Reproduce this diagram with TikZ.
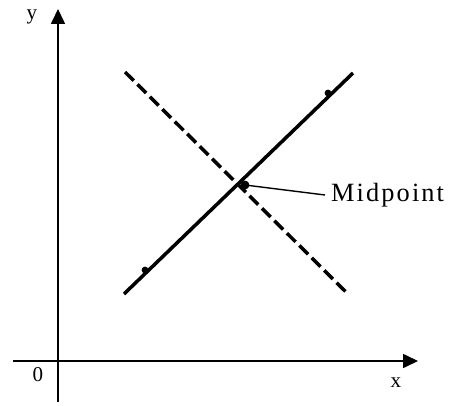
\documentclass[tikz,border=0pt]{standalone}
\usepackage{fontspec}
\setmainfont{Liberation Serif}
\usepackage{tikz}
\usetikzlibrary{arrows.meta}

\begin{document}
\begin{tikzpicture}[x=0.02cm, y=-0.02cm]
\useasboundingbox (0,0) rectangle (450,406);

% Axes
\coordinate (O) at (58,361);
\coordinate (xa) at (13,361);
\coordinate (xb) at (418,361);
\coordinate (ya) at (58,402);
\coordinate (yb) at (58,9);
\draw[line width=0.7pt, -{Triangle[length=8.5pt, width=8pt]}] (xa) -- (xb);
\draw[line width=0.7pt, -{Triangle[length=8.5pt, width=8pt]}] (ya) -- (yb);
\node[font=\large] (orig) at (38,375) {0};
\node[font=\large] (xlab) at (396,383) {x};
\node[font=\large] (ylab) at (32,17) {y};

% Segment plein et ses extremites
\coordinate (A) at (124,294);
\coordinate (B) at (353,73);
\draw[line width=2pt] (A) -- (B);
\fill (145,270) circle (3.4);
\fill (328,93) circle (3.4);

% Mediatrice en pointilles
\coordinate (C) at (125,72);
\coordinate (D) at (347,293);
\draw[line width=2pt, dash pattern=on 7pt off 3pt] (C) -- (D);

% Milieu et legende
\coordinate (M) at (245,185);
\fill (M) circle (4.4);
\node[font=\fontsize{15}{18}\selectfont\addfontfeature{LetterSpace=8}, anchor=west] (mid) at (325,195) {Midpoint};
\draw[line width=0.8pt] (M) -- (mid.west);
\end{tikzpicture}
\end{document}
